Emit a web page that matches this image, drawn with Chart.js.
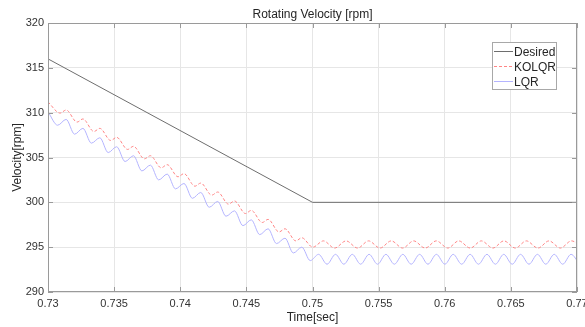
<!DOCTYPE html>
<html lang="en">
<head>
  <meta charset="UTF-8" />
  <title>Rotating Velocity [rpm]</title>
  <script src="https://cdn.jsdelivr.net/npm/chart.js@4.4.1/dist/chart.umd.min.js"></script>
  <style>
    html, body { margin: 0; padding: 0; background: #fff; }
    #wrap { width: 585px; height: 327px; }
  </style>
</head>
<body>
  <div id="wrap"><canvas id="velChart" width="585" height="327"></canvas></div>

  <script>
    // ---- data ----
    const xTicks = [0.73, 0.735, 0.74, 0.745, 0.75, 0.755, 0.76, 0.765, 0.77];
    const yTicks = [290, 295, 300, 305, 310, 315, 320];

    const desiredTime = [0.73, 0.75, 0.77];
    const desiredVel = [316, 300, 300];

    const kolqrTime = [
      0.73, 0.73092, 0.73137, 0.73220, 0.73264, 0.73347, 0.73392, 0.73474, 0.73519,
      0.73602, 0.73646, 0.73729, 0.73774, 0.73856, 0.73901, 0.73983, 0.74028,
      0.74111, 0.74155, 0.74238, 0.74283, 0.74365, 0.74410, 0.74493, 0.74537,
      0.74620, 0.74664, 0.74747, 0.74792, 0.74874, 0.74919, 0.75002,
      0.75083, 0.75167, 0.75254, 0.75341, 0.75424, 0.75511, 0.75595, 0.75682,
      0.75765, 0.75852, 0.75936, 0.76023, 0.76106, 0.76193, 0.76277, 0.76364,
      0.76447, 0.76534, 0.76617, 0.76705, 0.76788, 0.76875, 0.76958, 0.77045
    ];
    const kolqrVel = [
      311.2, 309.95, 310.3, 308.95, 309.3, 307.9, 308.25, 306.9, 307.25,
      305.9, 306.25, 304.85, 305.2, 303.85, 304.2, 302.85, 303.2,
      301.8, 302.15, 300.8, 301.15, 299.8, 300.15, 298.75, 299.1,
      297.75, 298.1, 296.7, 297.05, 295.7, 296.05, 295.0,
      295.7, 294.9, 295.7, 294.9, 295.7, 294.9, 295.7, 294.9,
      295.7, 294.9, 295.7, 294.9, 295.7, 294.9, 295.7, 294.9,
      295.7, 294.9, 295.7, 294.9, 295.7, 294.9, 295.7, 294.9
    ];

    const lqrTime = [
      0.73, 0.73073, 0.73137, 0.73201, 0.73264, 0.73328, 0.73392, 0.73455, 0.73519,
      0.73583, 0.73646, 0.73710, 0.73774, 0.73837, 0.73901, 0.73964, 0.74028,
      0.74092, 0.74155, 0.74219, 0.74283, 0.74346, 0.74410, 0.74474, 0.74537,
      0.74601, 0.74664, 0.74728, 0.74792, 0.74855, 0.74919, 0.74983, 0.75046,
      0.75110, 0.75174, 0.75237, 0.75301, 0.75364, 0.75428, 0.75492, 0.75555,
      0.75619, 0.75683, 0.75746, 0.75810, 0.75873, 0.75937, 0.76001, 0.76064,
      0.76128, 0.76192, 0.76255, 0.76319, 0.76383, 0.76446, 0.76510, 0.76573,
      0.76637, 0.76701, 0.76764, 0.76828, 0.76892, 0.76955, 0.77019
    ];
    const lqrVel = [
      310.1, 308.6, 309.25, 307.6, 308.25, 306.6, 307.2, 305.55, 306.2,
      304.55, 305.2, 303.5, 304.15, 302.5, 303.15, 301.5, 302.1,
      300.45, 301.1, 299.45, 300.1, 298.45, 299.05, 297.4, 298.05,
      296.4, 297.05, 295.4, 296.0, 294.35, 295.0, 293.5, 294.2,
      293.1, 294.2, 293.1, 294.2, 293.1, 294.2, 293.1, 294.2,
      293.1, 294.2, 293.1, 294.2, 293.1, 294.2, 293.1, 294.2,
      293.1, 294.2, 293.1, 294.2, 293.1, 294.2, 293.1, 294.2,
      293.1, 294.2, 293.1, 294.2, 293.1, 294.2, 293.1
    ];

    const FONT = '"Liberation Sans", Arial, Helvetica, sans-serif';
    const toXY = (ts, vs) => ts.map((t, i) => ({ x: t, y: vs[i] }));

    const series = [
      { label: "Desired", color: "#6e6e6e", dash: [] },
      { label: "KOLQR", color: "#ff8585", dash: [3, 2] },
      { label: "LQR", color: "#b4b4ff", dash: [] }
    ];

    // box, inward ticks, title and legend (MATLAB look)
    const matlabFrame = {
      id: "matlabFrame",
      afterDatasetsDraw(chart) {
        const { ctx, chartArea: a, scales: { x, y } } = chart;
        ctx.save();
        ctx.strokeStyle = "#9a9a9a";
        ctx.lineWidth = 1;
        ctx.strokeRect(a.left + 0.5, a.top + 0.5, a.width - 1, a.height - 1);

        ctx.beginPath();
        xTicks.forEach(v => {
          const px = Math.round(x.getPixelForValue(v)) + 0.5;
          ctx.moveTo(px, a.bottom); ctx.lineTo(px, a.bottom - 5);
          ctx.moveTo(px, a.top); ctx.lineTo(px, a.top + 5);
        });
        yTicks.forEach(v => {
          const py = Math.round(y.getPixelForValue(v)) + 0.5;
          ctx.moveTo(a.left, py); ctx.lineTo(a.left + 5, py);
          ctx.moveTo(a.right, py); ctx.lineTo(a.right - 5, py);
        });
        ctx.stroke();

        // title
        ctx.fillStyle = "#262626";
        ctx.font = "12px " + FONT;
        ctx.textAlign = "center";
        ctx.textBaseline = "alphabetic";
        ctx.fillText("Rotating Velocity [rpm]", (a.left + a.right) / 2, 17.5);

        // legend
        const lx = 492.5, ly = 42.5, lw = 64, lh = 47;
        ctx.fillStyle = "#fff";
        ctx.fillRect(lx, ly, lw, lh);
        ctx.strokeStyle = "#a8a8a8";
        ctx.strokeRect(lx, ly, lw, lh);
        ctx.textAlign = "left";
        series.forEach((s, i) => {
          const cy = 51.5 + i * 15;
          ctx.strokeStyle = s.color;
          ctx.setLineDash(s.dash);
          ctx.beginPath();
          ctx.moveTo(494, cy); ctx.lineTo(513, cy);
          ctx.stroke();
          ctx.setLineDash([]);
          ctx.fillStyle = "#262626";
          ctx.fillText(s.label, 514, cy + 4.5);
        });
        ctx.restore();
      }
    };

    new Chart(document.getElementById("velChart"), {
      type: "line",
      data: {
        datasets: [
          {
            label: "Desired",
            data: toXY(desiredTime, desiredVel),
            borderColor: series[0].color,
            borderWidth: 1,
            tension: 0
          },
          {
            label: "KOLQR",
            data: toXY(kolqrTime, kolqrVel),
            borderColor: series[1].color,
            borderWidth: 1,
            borderDash: series[1].dash,
            cubicInterpolationMode: "monotone"
          },
          {
            label: "LQR",
            data: toXY(lqrTime, lqrVel),
            borderColor: series[2].color,
            borderWidth: 1,
            cubicInterpolationMode: "monotone"
          }
        ]
      },
      options: {
        responsive: false,
        animation: false,
        layout: { padding: { top: 23, right: 8, left: 0, bottom: 0 } },
        elements: { point: { radius: 0 } },
        plugins: { legend: { display: false }, tooltip: { enabled: false } },
        scales: {
          x: {
            type: "linear",
            min: 0.73,
            max: 0.77,
            afterBuildTicks: s => { s.ticks = xTicks.map(v => ({ value: v })); },
            afterFit: s => { s.height = 35; s.paddingLeft = 0; s.paddingRight = 0; },
            ticks: {
              autoSkip: false,
              maxRotation: 0,
              padding: 5,
              color: "#333",
              font: { family: FONT, size: 11 },
              callback: v => String(v)
            },
            grid: { color: "#e6e6e6", drawTicks: false },
            border: { display: false },
            title: {
              display: true,
              text: "Time[sec]",
              color: "#262626",
              font: { family: FONT, size: 12 },
              padding: { top: 0, bottom: 2 }
            }
          },
          y: {
            min: 290,
            max: 320,
            afterBuildTicks: s => { s.ticks = yTicks.map(v => ({ value: v })); },
            afterFit: s => { s.width = 48; },
            ticks: {
              padding: 4,
              color: "#333",
              font: { family: FONT, size: 11 }
            },
            grid: { color: "#e6e6e6", drawTicks: false },
            border: { display: false },
            title: {
              display: true,
              text: "Velocity[rpm]",
              color: "#262626",
              font: { family: FONT, size: 12 },
              padding: { top: 10, bottom: 0 }
            }
          }
        }
      },
      plugins: [matlabFrame]
    });
  </script>
</body>
</html>
